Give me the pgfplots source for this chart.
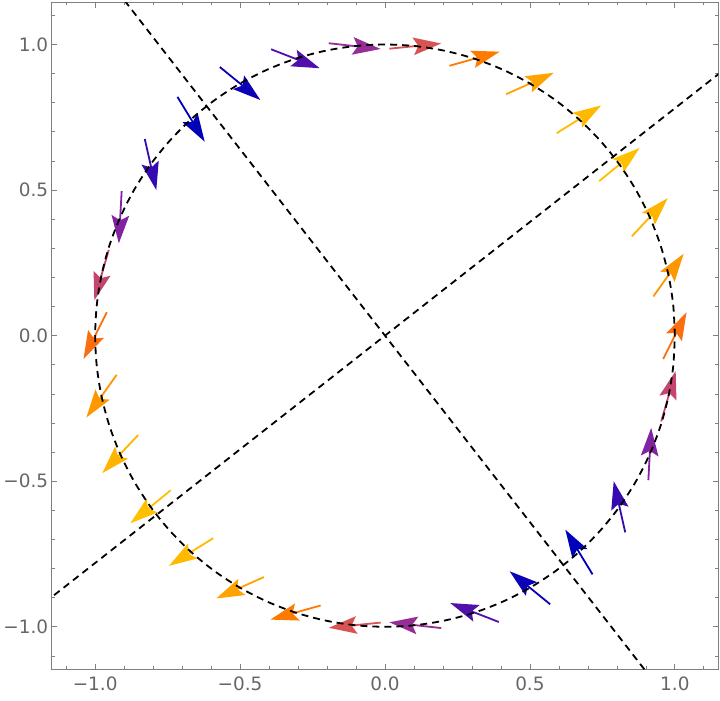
\documentclass[border=0pt]{standalone}
\usepackage{fontspec}
\setmainfont{DejaVu Sans}
\usepackage{pgfplots}
\pgfplotsset{compat=1.18}
\usetikzlibrary{arrows.meta}

\definecolor{labelgray}{HTML}{666666}
\definecolor{framegray}{HTML}{808080}

% Arrows of the field A x = (x + 2y, 2x) on the unit circle, every 12 degrees:
% tail (x,y), normalised step (u,v), magnitude m of A x
\pgfplotstableread{
x        y        u        v        m
 0.9598  -0.0805   0.0805   0.1610  2.2361
 0.9259   0.1346   0.1045   0.1466  2.4020
 0.8517   0.3413   0.1236   0.1308  2.5140
 0.7392   0.5309   0.1395   0.1137  2.5606
 0.5926   0.6956   0.1529   0.0950  2.5370
 0.4179   0.8292   0.1643   0.0736  2.4458
 0.2223   0.9269   0.1734   0.0485  2.2959
 0.0149   0.9856   0.1791   0.0179  2.1039
-0.1940   1.0044   0.1789  -0.0198  1.8961
-0.3929   0.9836   0.1678  -0.0651  1.7089
-0.5699   0.9227   0.1398  -0.1134  1.5868
-0.7160   0.8199   0.0938  -0.1536  1.5679
-0.8289   0.6756   0.0398  -0.1756  1.6590
-0.9086   0.4966  -0.0098  -0.1797  1.8297
-0.9532   0.2944  -0.0497  -0.1730  2.0354
-0.9598   0.0805  -0.0805  -0.1610  2.2361
-0.9259  -0.1346  -0.1045  -0.1466  2.4020
-0.8517  -0.3413  -0.1236  -0.1308  2.5140
-0.7392  -0.5309  -0.1395  -0.1137  2.5606
-0.5926  -0.6956  -0.1529  -0.0950  2.5370
-0.4179  -0.8292  -0.1643  -0.0736  2.4458
-0.2223  -0.9269  -0.1734  -0.0485  2.2959
-0.0149  -0.9856  -0.1791  -0.0179  2.1039
 0.1940  -1.0044  -0.1789   0.0198  1.8961
 0.3929  -0.9836  -0.1678   0.0651  1.7089
 0.5699  -0.9227  -0.1398   0.1134  1.5868
 0.7160  -0.8199  -0.0938   0.1536  1.5679
 0.8289  -0.6756  -0.0398   0.1756  1.6590
 0.9086  -0.4966   0.0098   0.1797  1.8297
 0.9532  -0.2944   0.0497   0.1730  2.0354
}\fieldtable

% Unit circle, every 6 degrees
\pgfplotstableread{
x        y
 1.0000   0.0000
 0.9945   0.1045
 0.9781   0.2079
 0.9511   0.3090
 0.9135   0.4067
 0.8660   0.5000
 0.8090   0.5878
 0.7431   0.6691
 0.6691   0.7431
 0.5878   0.8090
 0.5000   0.8660
 0.4067   0.9135
 0.3090   0.9511
 0.2079   0.9781
 0.1045   0.9945
 0.0000   1.0000
-0.1045   0.9945
-0.2079   0.9781
-0.3090   0.9511
-0.4067   0.9135
-0.5000   0.8660
-0.5878   0.8090
-0.6691   0.7431
-0.7431   0.6691
-0.8090   0.5878
-0.8660   0.5000
-0.9135   0.4067
-0.9511   0.3090
-0.9781   0.2079
-0.9945   0.1045
-1.0000   0.0000
-0.9945  -0.1045
-0.9781  -0.2079
-0.9511  -0.3090
-0.9135  -0.4067
-0.8660  -0.5000
-0.8090  -0.5878
-0.7431  -0.6691
-0.6691  -0.7431
-0.5878  -0.8090
-0.5000  -0.8660
-0.4067  -0.9135
-0.3090  -0.9511
-0.2079  -0.9781
-0.1045  -0.9945
 0.0000  -1.0000
 0.1045  -0.9945
 0.2079  -0.9781
 0.3090  -0.9511
 0.4067  -0.9135
 0.5000  -0.8660
 0.5878  -0.8090
 0.6691  -0.7431
 0.7431  -0.6691
 0.8090  -0.5878
 0.8660  -0.5000
 0.9135  -0.4067
 0.9511  -0.3090
 0.9781  -0.2079
 0.9945  -0.1045
 1.0000   0.0000
}\circletable

\begin{document}
\begin{tikzpicture}
\useasboundingbox (-51.7bp,-31.3bp) rectangle (668.3bp,669bp);
\begin{axis}[
  scale only axis,
  width=666.6bp, height=666.7bp,
  xmin=-1.15, xmax=1.15,
  ymin=-1.145, ymax=1.145,
  axis line style={framegray, line width=0.8bp},
  tick style={framegray, line width=0.7bp},
  tick align=inside,
  xtick pos=both, ytick pos=both,
  major tick length=5.5bp, minor tick length=3bp,
  xtick={-1,-0.5,0,0.5,1},
  ytick={-1,-0.5,0,0.5,1},
  xticklabels={−1.0,−0.5,0.0,0.5,1.0},
  yticklabels={−1.0,−0.5,0.0,0.5,1.0},
  minor xtick={-1.1,-0.9,-0.8,-0.7,-0.6,-0.4,-0.3,-0.2,-0.1,0.1,0.2,0.3,0.4,0.6,0.7,0.8,0.9,1.1},
  minor ytick={-1.1,-0.9,-0.8,-0.7,-0.6,-0.4,-0.3,-0.2,-0.1,0.1,0.2,0.3,0.4,0.6,0.7,0.8,0.9,1.1},
  ticklabel style={font=\fontsize{18.5}{20}\selectfont, text=labelgray},
  xticklabel style={yshift=-4bp},
  colormap={fieldmag}{rgb255=(0,0,185) rgb255=(60,10,175) rgb255=(110,25,165)
    rgb255=(140,40,160) rgb255=(175,55,130) rgb255=(205,75,100) rgb255=(235,95,60)
    rgb255=(255,115,0) rgb255=(255,140,0) rgb255=(255,168,0) rgb255=(255,192,0)},
  point meta min=1.5679, point meta max=2.5606,
  clip=true,
]
% field arrows, coloured by magnitude
\addplot[
  point meta=\thisrow{m},
  quiver={u=\thisrow{u}, v=\thisrow{v},
    every arrow/.append style={draw=mapped color, fill=mapped color,
      line width=1.8bp,
      -{Stealth[length=28bp, width=17.5bp, inset=5bp]}}},
] table[x=x, y=y] {\fieldtable};

% eigen-directions of A
\addplot[black, line width=1.8bp, dash pattern=on 7bp off 5bp]
  coordinates {(-1.5,-1.1712) (1.5,1.1712)};
\addplot[black, line width=1.8bp, dash pattern=on 7bp off 5bp]
  coordinates {(-1.0,1.2808) (1.0,-1.2808)};

% unit circle
\addplot[black, line width=1.8bp, dash pattern=on 7bp off 5bp, smooth]
  table[x=x, y=y] {\circletable};
\end{axis}
\end{tikzpicture}
\end{document}
